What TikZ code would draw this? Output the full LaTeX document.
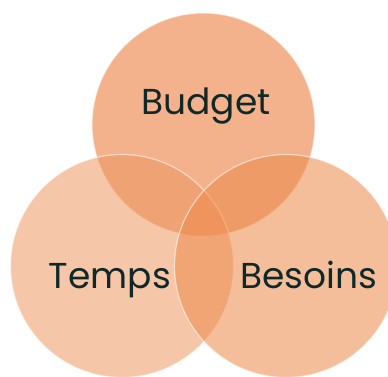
\documentclass[tikz,border=0pt]{standalone}
\usepackage{fontspec}
\setsansfont{Poppins}
\usepackage{tikz}
\usetikzlibrary{positioning}

\definecolor{topfill}{RGB}{233,115,46}
\definecolor{leftfill}{RGB}{237,151,97}
\definecolor{rightfill}{RGB}{237,137,73}
\definecolor{textdark}{RGB}{16,40,40}

\begin{document}
\begin{tikzpicture}[
    x=1pt, y=-1pt,
    set/.style={circle, minimum size=223pt, inner sep=0pt,
        fill opacity=0.55, draw=white, draw opacity=0.55, line width=1.2pt},
    word/.style={anchor=base, text=textdark,
        font=\sffamily\fontsize{36}{40}\selectfont}
]
\useasboundingbox (0,0) rectangle (388,377);

\node[set, fill=topfill]   (budget)  at (203.5,124.5) {};
\node[set, fill=leftfill]  (temps)   at (122,266) {};
\node[set, fill=rightfill] (besoins) at (286,266) {};

\node[word] (budgetlabel)  at (206,115) {Budget};
\node[word] (tempslabel)   at (110,288) {Temps};
\node[word] (besoinslabel) at (309,288) {Besoins};
\end{tikzpicture}
\end{document}
